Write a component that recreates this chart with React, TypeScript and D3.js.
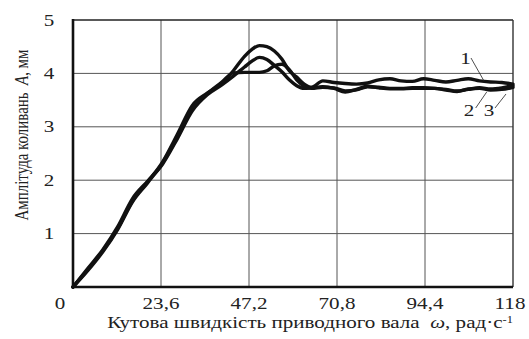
import React from "react";
import * as d3 from "d3";

// кутова швидкість, рад/с (спільна сітка для трьох кривих)
const omega = [
  0, 4, 8, 12, 16, 20, 24, 28, 32, 36, 40, 43, 46, 48, 50, 52, 54, 56, 58, 60,
  62, 64, 67, 70, 73, 76, 79, 82, 85, 88, 91, 94, 97, 100, 103, 106, 109, 112,
  115, 118
];

// амплітуда коливань A, мм
const curve1 = [
  0, 0.33, 0.68, 1.1, 1.62, 1.97, 2.34, 2.86, 3.4, 3.63, 3.82, 4.05, 4.32,
  4.45, 4.52, 4.5, 4.42, 4.27, 4.05, 3.93, 3.8, 3.74, 3.86, 3.83, 3.81, 3.8,
  3.82, 3.88, 3.9, 3.86, 3.85, 3.9, 3.87, 3.84, 3.87, 3.9, 3.86, 3.84, 3.83,
  3.8
];
const curve2 = [
  0, 0.35, 0.7, 1.13, 1.66, 1.98, 2.3, 2.78, 3.3, 3.6, 3.79, 3.95, 4.12, 4.23,
  4.3, 4.26, 4.15, 4.03, 3.88, 3.77, 3.72, 3.73, 3.75, 3.72, 3.65, 3.7, 3.76,
  3.73, 3.71, 3.71, 3.72, 3.72, 3.72, 3.69, 3.66, 3.71, 3.72, 3.69, 3.7, 3.74
];
const curve3 = [
  0, 0.31, 0.66, 1.08, 1.6, 1.95, 2.32, 2.82, 3.36, 3.62, 3.84, 4.01, 4.02,
  4.02, 4.02, 4.05, 4.14, 4.17, 4.07, 3.88, 3.76, 3.72, 3.74, 3.73, 3.67,
  3.69, 3.75, 3.74, 3.72, 3.72, 3.73, 3.73, 3.72, 3.7, 3.67, 3.7, 3.73, 3.71,
  3.73, 3.77
];

const xTicks = [0, 23.6, 47.2, 70.8, 94.4, 118];
const xTickLabels = ["0", "23,6", "47,2", "70,8", "94,4", "118"];
const yTicks = [1, 2, 3, 4, 5];

const W = 529;
const H = 339;
const margin = { left: 73, right: 16, top: 20, bottom: 52 };
const font = "'Liberation Serif', 'Times New Roman', serif";
const SX = 1.24; // шрифт у оригіналі розтягнутий по горизонталі

function T({ x, y, children, size = 17, anchor = "middle" }: any) {
  return (
    <g transform={`translate(${x},${y}) scale(${SX},1)`}>
      <text textAnchor={anchor} fontSize={size} fill="#222">
        {children}
      </text>
    </g>
  );
}

export default function App() {
  const x = d3
    .scaleLinear()
    .domain([0, 118])
    .range([margin.left, W - margin.right]);
  const y = d3
    .scaleLinear()
    .domain([0, 5])
    .range([H - margin.bottom, margin.top]);

  const line = d3
    .line<number>()
    .x((_, i) => x(omega[i]))
    .y(d => y(d))
    .curve(d3.curveMonotoneX);

  const x0 = x(0);
  const x1 = x(118);
  const y0 = y(0);
  const y1 = y(5);

  return (
    <svg
      width={W}
      height={H}
      style={{ position: "absolute", left: 0, top: 0, background: "#fff" }}
      fontFamily={font}
    >
      {/* сітка */}
      {xTicks.slice(1, -1).map(t => (
        <line key={"gx" + t} x1={x(t)} x2={x(t)} y1={y1} y2={y0} stroke="#555" strokeWidth={1} />
      ))}
      {yTicks.slice(0, -1).map(t => (
        <line key={"gy" + t} x1={x0} x2={x1} y1={y(t)} y2={y(t)} stroke="#555" strokeWidth={1} />
      ))}
      <line x1={x0} x2={x1} y1={y1} y2={y1} stroke="#222" strokeWidth={1.6} />
      <line x1={x1} x2={x1} y1={y1} y2={y0} stroke="#333" strokeWidth={1.4} />
      <line x1={x0} x2={x0} y1={y1 - 1} y2={y0 + 1.3} stroke="#111" strokeWidth={2.6} />
      <line x1={x0 - 1.3} x2={x1} y1={y0} y2={y0} stroke="#111" strokeWidth={2.6} />

      {/* криві */}
      {[curve1, curve2, curve3].map((c, i) => (
        <path
          key={i}
          d={line(c) || ""}
          fill="none"
          stroke="#111"
          strokeWidth={3.4}
          strokeLinejoin="round"
          strokeLinecap="round"
        />
      ))}

      {/* підписи осей */}
      {yTicks.map(t => (
        <T key={"ty" + t} x={49} y={y(t) + 5.5}>
          {t}
        </T>
      ))}
      {xTicks.map((t, i) => (
        <T
          key={"tx" + t}
          x={i === 0 ? 60 : x(t) - (i === xTicks.length - 1 ? 3 : 0)}
          y={309}
        >
          {xTickLabels[i]}
        </T>
      ))}

      <T x={310} y={328}>
        Кутова швидкість приводного вала{"\u00a0\u00a0"}
        <tspan fontStyle="italic">ω</tspan>, рад·с
        <tspan dy={-5} fontSize={10}>-1</tspan>
      </T>
      <g transform={`translate(28, 135) rotate(-90) scale(0.83, 1.05)`}>
        <text textAnchor="middle" fontSize={18} fill="#222">
          Амплітуда коливань{"\u00a0\u00a0"}
          <tspan fontStyle="italic">A</tspan>, мм
        </text>
      </g>

      {/* позначення кривих */}
      <T x={465.5} y={64}>1</T>
      <T x={469} y={116}>2</T>
      <T x={489} y={116}>3</T>
      <line x1={471} y1={58} x2={484} y2={81} stroke="#222" strokeWidth={0.8} />
      <line x1={475.7} y1={108} x2={486.7} y2={92} stroke="#222" strokeWidth={0.8} />
      <line x1={495} y1={108} x2={506} y2={94} stroke="#222" strokeWidth={0.8} />
    </svg>
  );
}
